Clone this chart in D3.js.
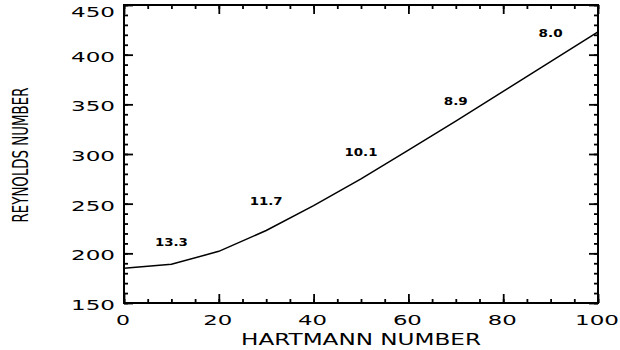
<!DOCTYPE html>
<html>
<head>
<meta charset="utf-8">
<script src="https://cdn.jsdelivr.net/npm/d3@7"></script>
<style>
  html, body { margin: 0; padding: 0; background: #fff; }
  svg { display: block; }
  text { font-family: "DejaVu Sans", sans-serif; fill: #000; }
</style>
</head>
<body>
<svg id="chart" width="620" height="350"></svg>
<script>
// ---- data ----
const hartmann = [0, 10, 20, 30, 40, 50, 60, 70, 80, 90, 100];
const reynolds = [185, 189, 202, 223, 248, 275, 304, 333, 363, 393, 423];
const annotX = [10, 30, 50, 70, 90];
const annotY = [211.5, 252, 302, 352.5, 421.5];
const annotText = ["13.3", "11.7", "10.1", "8.9", "8.0"];
const xTicks = [0, 20, 40, 60, 80, 100];
const yTicks = [150, 200, 250, 300, 350, 400, 450];
const xTitle = "HARTMANN  NUMBER";
const yTitle = "REYNOLDS NUMBER";

// ---- layout ----
const W = 620, H = 350;
const L = 124, R = 598, T = 5, B = 303;
const svg = d3.select("#chart");

const x = d3.scaleLinear().domain([0, 100]).range([L, R]);
const y = d3.scaleLinear().domain([150, 450]).range([B, T]);

function styleAxis(g) {
  g.select(".domain").remove();
  g.selectAll(".tick line").attr("stroke", "#000").attr("stroke-width", 1.8);
}

// minor ticks
const xMinor = d3.range(0, 101, 5);
const yMinor = d3.range(150, 451, 10);

svg.append("g").attr("transform", `translate(0,${B})`)
  .call(d3.axisBottom(x).tickValues(xMinor).tickSize(-4).tickFormat("")).call(styleAxis);
svg.append("g").attr("transform", `translate(0,${T})`)
  .call(d3.axisTop(x).tickValues(xMinor).tickSize(-4).tickFormat("")).call(styleAxis);
svg.append("g").attr("transform", `translate(${L},0)`)
  .call(d3.axisLeft(y).tickValues(yMinor).tickSize(-4).tickFormat("")).call(styleAxis);
svg.append("g").attr("transform", `translate(${R},0)`)
  .call(d3.axisRight(y).tickValues(yMinor).tickSize(-4).tickFormat("")).call(styleAxis);

// major ticks
svg.append("g").attr("transform", `translate(0,${B})`)
  .call(d3.axisBottom(x).tickValues(xTicks).tickSize(-9).tickFormat("")).call(styleAxis);
svg.append("g").attr("transform", `translate(0,${T})`)
  .call(d3.axisTop(x).tickValues(xTicks).tickSize(-9).tickFormat("")).call(styleAxis);
svg.append("g").attr("transform", `translate(${L},0)`)
  .call(d3.axisLeft(y).tickValues(yTicks).tickSize(-9).tickFormat("")).call(styleAxis);
svg.append("g").attr("transform", `translate(${R},0)`)
  .call(d3.axisRight(y).tickValues(yTicks).tickSize(-9).tickFormat("")).call(styleAxis);

// frame
svg.append("rect")
  .attr("x", L).attr("y", T).attr("width", R - L).attr("height", B - T)
  .attr("fill", "none").attr("stroke", "#000").attr("stroke-width", 2);

// tick labels
const charW = 15;
svg.append("g").selectAll("text").data(yTicks).join("text")
  .attr("x", L - 9)
  .attr("y", d => Math.max(y(d) + 2, 12))
  .attr("dy", "0.36em")
  .attr("text-anchor", "end")
  .attr("font-size", 14)
  .attr("textLength", d => String(d).length * charW - 1)
  .attr("lengthAdjust", "spacingAndGlyphs")
  .text(d => d);

svg.append("g").selectAll("text").data(xTicks).join("text")
  .attr("x", d => x(d) - 1)
  .attr("y", B + 12)
  .attr("dy", "0.72em")
  .attr("text-anchor", "middle")
  .attr("font-size", 14)
  .attr("textLength", d => String(d).length * charW - 1)
  .attr("lengthAdjust", "spacingAndGlyphs")
  .text(d => d);

// axis titles
svg.append("text")
  .attr("x", (241 + 481) / 2).attr("y", 345)
  .attr("text-anchor", "middle")
  .attr("font-size", 15.5)
  .attr("textLength", 240)
  .attr("lengthAdjust", "spacingAndGlyphs")
  .text(xTitle);

svg.append("text")
  .attr("transform", `translate(28,155) rotate(-90)`)
  .attr("text-anchor", "middle")
  .attr("font-size", 21)
  .attr("textLength", 135)
  .attr("lengthAdjust", "spacingAndGlyphs")
  .text(yTitle);

// curve
const line = d3.line().x((d, i) => x(hartmann[i])).y(d => y(d));
svg.append("path")
  .datum(reynolds)
  .attr("d", line)
  .attr("fill", "none")
  .attr("stroke", "#000")
  .attr("stroke-width", 1.5);

// annotations
svg.append("g").selectAll("text").data(annotText).join("text")
  .attr("x", (d, i) => x(annotX[i]))
  .attr("y", (d, i) => y(annotY[i]))
  .attr("dy", "0.36em")
  .attr("text-anchor", "middle")
  .attr("font-size", 10)
  .attr("font-weight", "bold")
  .attr("textLength", d => d.replace(".", "").length * 9 + (d.includes(".") ? 6 : 0))
  .attr("lengthAdjust", "spacingAndGlyphs")
  .text(d => d);
</script>
</body>
</html>
